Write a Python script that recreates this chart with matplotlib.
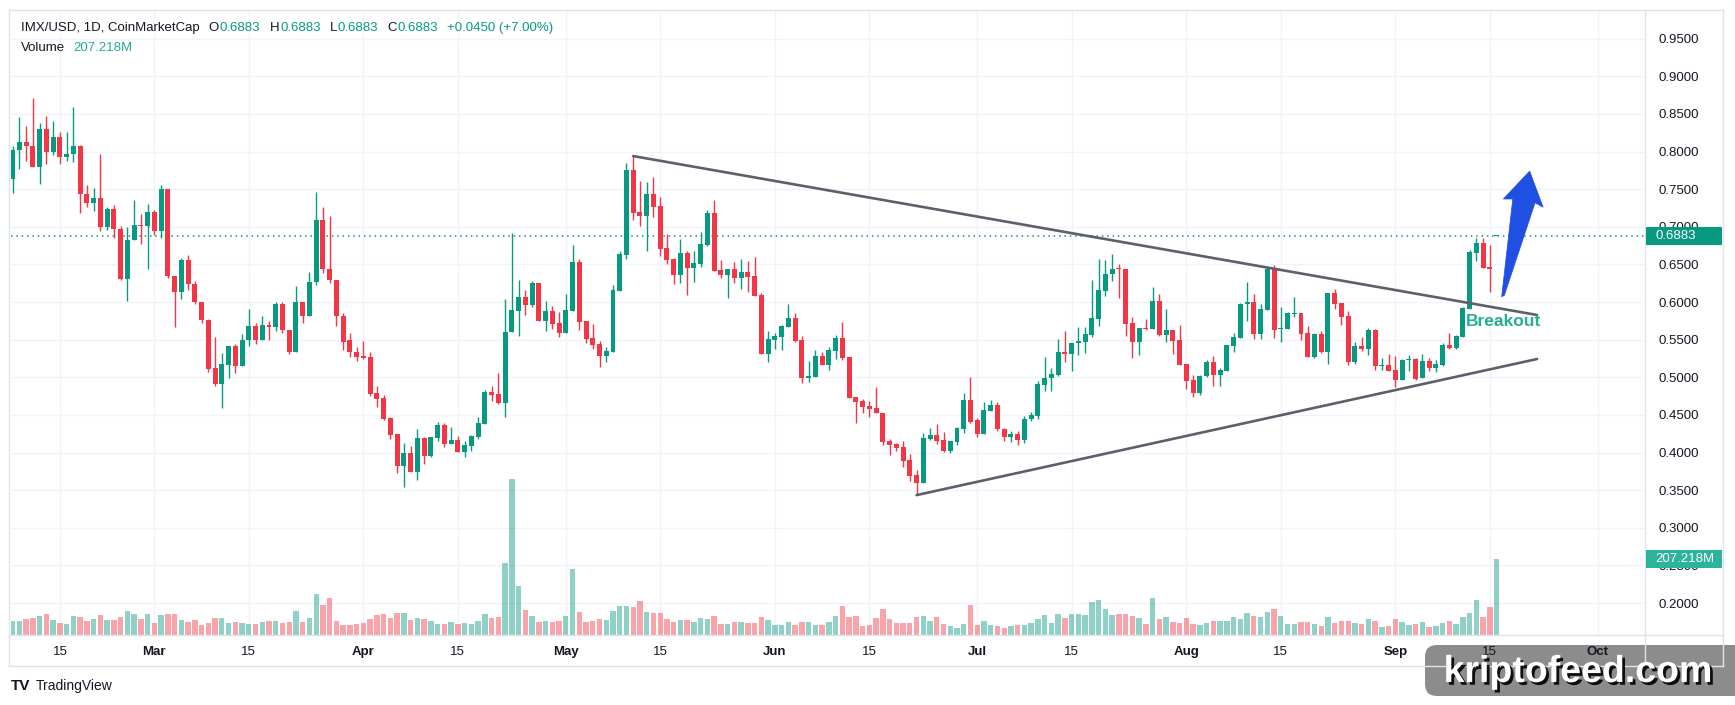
import datetime as dt
import numpy as np
import matplotlib
matplotlib.use('Agg')
import matplotlib.pyplot as plt
import matplotlib.dates as mdates
import matplotlib.transforms as mtransforms
import matplotlib.patheffects as pe
from matplotlib.patches import Rectangle, FancyBboxPatch, Polygon
from matplotlib.lines import Line2D

plt.rcParams['font.family'] = ['Liberation Sans', 'DejaVu Sans']

# IMX/USD daily candles, 2025-02-08 .. 2025-09-16
start = dt.date(2025, 2, 8)
opens = [
    0.7635, 0.8017, 0.8132, 0.8079, 0.779, 0.8305, 0.799, 0.8198, 0.7923, 0.7963,
    0.8079, 0.744, 0.7311, 0.7387, 0.6992, 0.724, 0.6974, 0.6309, 0.6819, 0.7028,
    0.7005, 0.72, 0.6939, 0.7507, 0.6349, 0.6127, 0.6562, 0.6243, 0.6003, 0.5768,
    0.5125, 0.4917, 0.5165, 0.5418, 0.5156, 0.5497, 0.5684, 0.5489, 0.5697, 0.5662,
    0.5977, 0.5631, 0.5342, 0.6003, 0.5821, 0.626, 0.7094, 0.6442, 0.6296, 0.5821,
    0.55, 0.534, 0.5283, 0.5274, 0.4795, 0.4728, 0.4462, 0.4249, 0.3823, 0.3996,
    0.3744, 0.4196, 0.3948, 0.4196, 0.4369, 0.4116, 0.4169, 0.401, 0.4089, 0.4209,
    0.4382, 0.4808, 0.4781, 0.4662, 0.5601, 0.5886, 0.6072, 0.5966, 0.6258, 0.5753,
    0.5886, 0.5726, 0.5593, 0.5886, 0.6538, 0.5753, 0.5526, 0.5447, 0.5287, 0.534,
    0.6152, 0.663, 0.775, 0.7203, 0.7142, 0.743, 0.727, 0.6712, 0.6566, 0.6358,
    0.6646, 0.6451, 0.6504, 0.6752, 0.719, 0.642, 0.6358, 0.6433, 0.6318, 0.6393,
    0.6344, 0.6092, 0.5308, 0.5499, 0.5534, 0.5671, 0.5782, 0.5494, 0.4989, 0.5002,
    0.5277, 0.5162, 0.5348, 0.5516, 0.5263, 0.4732, 0.4679, 0.4617, 0.459, 0.4532,
    0.4147, 0.4111, 0.4072, 0.3899, 0.37, 0.3593, 0.4178, 0.4231, 0.4165, 0.4019,
    0.4138, 0.4311, 0.4696, 0.4431, 0.4245, 0.4551, 0.463, 0.4311, 0.4205, 0.424,
    0.416, 0.4442, 0.4487, 0.49, 0.4985, 0.5033, 0.5331, 0.5313, 0.5451, 0.5473,
    0.5567, 0.578, 0.6153, 0.6367, 0.6447, 0.6442, 0.5722, 0.5474, 0.5656, 0.5647,
    0.6016, 0.5567, 0.5629, 0.5496, 0.5176, 0.4962, 0.4794, 0.5011, 0.5198, 0.5033,
    0.5087, 0.542, 0.5527, 0.5971, 0.6002, 0.558, 0.59, 0.6456, 0.5642, 0.5647,
    0.5842, 0.5856, 0.5585, 0.527, 0.5571, 0.5336, 0.6117, 0.5984, 0.5811, 0.5203,
    0.5412, 0.5376, 0.5625, 0.515, 0.5163, 0.5097, 0.4963, 0.5229, 0.5243, 0.499,
    0.5216, 0.5123, 0.5163, 0.5429, 0.5389, 0.5536, 0.5904, 0.6649, 0.6783, 0.6463,
    0.6883,
]
highs = [
    0.8079, 0.8465, 0.8345, 0.8717, 0.8385, 0.8478, 0.8411, 0.8265, 0.8265, 0.8598,
    0.8092, 0.7555, 0.752, 0.7972, 0.7267, 0.7294, 0.7014, 0.7001, 0.736, 0.7174,
    0.7307, 0.7227, 0.756, 0.7507, 0.6349, 0.6589, 0.6628, 0.6283, 0.6003, 0.5781,
    0.5529, 0.5325, 0.5418, 0.5444, 0.5577, 0.5901, 0.5724, 0.5817, 0.5754, 0.6003,
    0.6003, 0.5631, 0.6216, 0.6003, 0.6402, 0.7467, 0.7267, 0.7147, 0.6296, 0.5861,
    0.5595, 0.5407, 0.5486, 0.534, 0.4888, 0.4768, 0.4475, 0.4249, 0.4129, 0.4089,
    0.4316, 0.4209, 0.4209, 0.4409, 0.4396, 0.4342, 0.4223, 0.4156, 0.4236, 0.4475,
    0.4835, 0.4888, 0.5061, 0.6045, 0.6923, 0.6298, 0.6165, 0.6285, 0.6258, 0.6019,
    0.5952, 0.5872, 0.6112, 0.6764, 0.6578, 0.5753, 0.5713, 0.5486, 0.5407, 0.6232,
    0.6684, 0.785, 0.794, 0.7615, 0.7589, 0.7656, 0.739, 0.6898, 0.6588, 0.6832,
    0.6685, 0.6672, 0.6925, 0.7217, 0.735, 0.6557, 0.6433, 0.6526, 0.6566, 0.6539,
    0.6592, 0.6118, 0.5609, 0.5582, 0.5689, 0.5968, 0.5861, 0.5547, 0.5215, 0.5361,
    0.5334, 0.5401, 0.5556, 0.5729, 0.5263, 0.4732, 0.471, 0.4679, 0.4865, 0.4532,
    0.4178, 0.4125, 0.4152, 0.3979, 0.3766, 0.4258, 0.4324, 0.4377, 0.4271, 0.4152,
    0.4338, 0.4789, 0.5002, 0.4457, 0.467, 0.4696, 0.467, 0.433, 0.429, 0.428,
    0.448, 0.4542, 0.4949, 0.5269, 0.5127, 0.5509, 0.5616, 0.5456, 0.5669, 0.5669,
    0.6287, 0.6576, 0.6562, 0.6642, 0.6509, 0.6442, 0.5802, 0.5656, 0.5776, 0.6202,
    0.6109, 0.5909, 0.5629, 0.5696, 0.5176, 0.5033, 0.5033, 0.5234, 0.5287, 0.5127,
    0.5429, 0.5589, 0.5989, 0.6265, 0.6109, 0.598, 0.6469, 0.6496, 0.5936, 0.5869,
    0.6069, 0.5856, 0.5682, 0.5593, 0.5611, 0.6117, 0.617, 0.5984, 0.5877, 0.5465,
    0.5531, 0.5651, 0.5638, 0.5256, 0.531, 0.5283, 0.5243, 0.5296, 0.5256, 0.531,
    0.5256, 0.523, 0.5456, 0.5589, 0.5562, 0.5931, 0.6689, 0.6849, 0.6849, 0.6756,
    0.6883,
]
lows = [
    0.745, 0.7764, 0.787, 0.779, 0.7564, 0.783, 0.795, 0.783, 0.787, 0.7857,
    0.7178, 0.7258, 0.7205, 0.6939, 0.6952, 0.6846, 0.6287, 0.6008, 0.6819, 0.6766,
    0.6433, 0.6886, 0.6846, 0.6314, 0.5662, 0.6034, 0.6154, 0.598, 0.5728, 0.5076,
    0.489, 0.4597, 0.4996, 0.5063, 0.5156, 0.5422, 0.5436, 0.5489, 0.5489, 0.5609,
    0.5582, 0.5316, 0.5342, 0.5715, 0.5821, 0.622, 0.638, 0.6247, 0.5688, 0.5369,
    0.5276, 0.5212, 0.5247, 0.4755, 0.4608, 0.4435, 0.4183, 0.373, 0.3548, 0.3744,
    0.3637, 0.3841, 0.3934, 0.4156, 0.4076, 0.4116, 0.401, 0.3943, 0.4023, 0.4183,
    0.4382, 0.4688, 0.4648, 0.4475, 0.5601, 0.5553, 0.5832, 0.5939, 0.5753, 0.562,
    0.5646, 0.554, 0.5593, 0.5886, 0.5633, 0.546, 0.538, 0.5141, 0.5207, 0.534,
    0.6152, 0.657, 0.7096, 0.7017, 0.6672, 0.7124, 0.661, 0.6499, 0.6238, 0.6251,
    0.6092, 0.6265, 0.6464, 0.6739, 0.6411, 0.6318, 0.6052, 0.6251, 0.6172, 0.6132,
    0.6079, 0.5308, 0.5201, 0.5374, 0.5361, 0.5671, 0.5467, 0.4922, 0.4936, 0.5002,
    0.5162, 0.5095, 0.5241, 0.5228, 0.4723, 0.4391, 0.4524, 0.447, 0.4524, 0.4098,
    0.3966, 0.4019, 0.3806, 0.362, 0.3434, 0.3593, 0.4165, 0.4112, 0.4005, 0.3992,
    0.4098, 0.4258, 0.4391, 0.4205, 0.4245, 0.4551, 0.4284, 0.415, 0.414, 0.41,
    0.413, 0.442, 0.4451, 0.482, 0.482, 0.502, 0.5207, 0.5087, 0.53, 0.5327,
    0.554, 0.5687, 0.6074, 0.6274, 0.606, 0.5554, 0.5261, 0.53, 0.5634, 0.5647,
    0.5554, 0.5474, 0.5313, 0.5167, 0.4842, 0.4742, 0.4767, 0.5002, 0.4887, 0.4887,
    0.5087, 0.534, 0.5527, 0.5754, 0.5514, 0.5514, 0.59, 0.5527, 0.5474, 0.5647,
    0.5807, 0.55, 0.527, 0.5256, 0.5323, 0.5176, 0.5904, 0.5696, 0.5163, 0.5176,
    0.535, 0.5296, 0.5097, 0.5097, 0.5083, 0.487, 0.4963, 0.5083, 0.4963, 0.499,
    0.5083, 0.507, 0.515, 0.5376, 0.5376, 0.5536, 0.5904, 0.6543, 0.645, 0.6135,
    0.6883,
]
closes = [
    0.8026, 0.8132, 0.807, 0.779, 0.8305, 0.799, 0.8198, 0.7923, 0.7972, 0.8079,
    0.7431, 0.7311, 0.7387, 0.6992, 0.724, 0.6965, 0.6309, 0.6828, 0.7028, 0.7014,
    0.72, 0.6939, 0.7507, 0.634, 0.6127, 0.6562, 0.6234, 0.5994, 0.5755, 0.5116,
    0.4917, 0.5178, 0.5418, 0.5156, 0.5497, 0.5684, 0.5489, 0.5697, 0.5662, 0.5977,
    0.5622, 0.5342, 0.6003, 0.5821, 0.6269, 0.7094, 0.6433, 0.6287, 0.5808, 0.5475,
    0.5331, 0.5274, 0.526, 0.4781, 0.4715, 0.4449, 0.4236, 0.3823, 0.3996, 0.3744,
    0.4196, 0.3948, 0.4209, 0.4369, 0.4116, 0.4169, 0.401, 0.4103, 0.4223, 0.4396,
    0.4808, 0.4768, 0.4662, 0.5606, 0.5899, 0.6072, 0.5966, 0.6258, 0.5753, 0.5886,
    0.5713, 0.5593, 0.5899, 0.6538, 0.5739, 0.5513, 0.5433, 0.5287, 0.5353, 0.6165,
    0.6644, 0.775, 0.719, 0.715, 0.743, 0.7257, 0.6703, 0.6557, 0.6358, 0.6646,
    0.6451, 0.6513, 0.6765, 0.719, 0.6411, 0.6358, 0.6433, 0.6318, 0.6393, 0.6331,
    0.6079, 0.5308, 0.5503, 0.5547, 0.5675, 0.5782, 0.548, 0.4989, 0.5015, 0.5277,
    0.5162, 0.5361, 0.5516, 0.5255, 0.4723, 0.467, 0.4603, 0.4577, 0.4524, 0.4138,
    0.4098, 0.4058, 0.3886, 0.3686, 0.3593, 0.4191, 0.4231, 0.4152, 0.4019, 0.4152,
    0.4324, 0.4696, 0.4404, 0.4245, 0.4564, 0.463, 0.4311, 0.4205, 0.424, 0.416,
    0.4442, 0.4496, 0.4909, 0.4989, 0.5042, 0.5336, 0.5313, 0.5456, 0.5482, 0.5571,
    0.5789, 0.6162, 0.6376, 0.6442, 0.6433, 0.5714, 0.5474, 0.5656, 0.5642, 0.6016,
    0.5567, 0.5629, 0.5487, 0.5167, 0.4954, 0.4794, 0.502, 0.5207, 0.5033, 0.51,
    0.5429, 0.5536, 0.5976, 0.6002, 0.558, 0.5909, 0.6442, 0.5633, 0.5656, 0.5856,
    0.5856, 0.558, 0.527, 0.5571, 0.5336, 0.6117, 0.5975, 0.5802, 0.5203, 0.5412,
    0.5376, 0.5625, 0.515, 0.5163, 0.5083, 0.4963, 0.523, 0.5243, 0.4977, 0.5216,
    0.5123, 0.5176, 0.5429, 0.5389, 0.5549, 0.5917, 0.6663, 0.6783, 0.645, 0.6433,
    0.6883,
]
# volume in millions
volumes = [
    38.2, 38.2, 43.6, 46.3, 51.8, 57.3, 40.9, 32.7, 30.0, 51.8,
    49.1, 38.2, 43.6, 54.5, 40.9, 40.9, 49.1, 65.4, 57.3, 43.6,
    57.3, 32.7, 54.5, 57.3, 57.3, 40.9, 35.4, 40.9, 27.3, 32.7,
    46.3, 46.3, 32.7, 35.4, 32.7, 30.0, 30.0, 35.4, 38.2, 38.2,
    32.7, 35.4, 65.4, 35.4, 46.3, 111.8, 81.8, 100.9, 38.2, 27.3,
    27.3, 30.0, 32.7, 43.6, 54.5, 57.3, 46.3, 60.0, 60.0, 40.9,
    46.3, 43.6, 38.2, 30.0, 30.0, 35.4, 30.0, 32.7, 30.0, 38.2,
    57.3, 46.3, 49.1, 196.3, 425.3, 133.6, 68.2, 51.8, 35.4, 38.2,
    35.4, 38.2, 51.8, 179.9, 62.7, 35.4, 38.2, 43.6, 40.9, 65.4,
    79.1, 79.1, 76.3, 92.7, 62.7, 60.0, 60.0, 43.6, 35.4, 40.9,
    40.9, 35.4, 46.3, 43.6, 51.8, 30.0, 30.0, 35.4, 35.4, 32.7,
    32.7, 49.1, 40.9, 27.3, 27.3, 35.4, 27.3, 35.4, 35.4, 27.3,
    27.3, 35.4, 51.8, 79.1, 49.1, 51.8, 24.5, 27.3, 46.3, 70.9,
    43.6, 32.7, 32.7, 32.7, 49.1, 51.8, 38.2, 49.1, 30.0, 24.5,
    19.1, 30.0, 81.8, 27.3, 38.2, 27.3, 24.5, 19.1, 24.5, 27.3,
    27.3, 32.7, 43.6, 54.5, 32.7, 57.3, 46.3, 57.3, 57.3, 54.5,
    90.0, 95.4, 70.9, 54.5, 57.3, 57.3, 51.8, 46.3, 30.0, 100.9,
    43.6, 49.1, 35.4, 32.7, 46.3, 30.0, 27.3, 32.7, 38.2, 38.2,
    38.2, 49.1, 43.6, 60.0, 51.8, 49.1, 62.7, 70.9, 51.8, 30.0,
    30.0, 35.4, 35.4, 30.0, 24.5, 49.1, 32.7, 38.2, 38.2, 32.7,
    30.0, 43.6, 38.2, 21.8, 24.5, 43.6, 35.4, 27.3, 30.0, 35.4,
    21.8, 24.5, 32.7, 38.2, 30.0, 49.1, 60.0, 95.4, 49.1, 76.3,
    207.218,
]

tick_dates = ['2025-02-15', '2025-03-01', '2025-03-15', '2025-04-01', '2025-04-15',
              '2025-05-01', '2025-05-15', '2025-06-01', '2025-06-15', '2025-07-01',
              '2025-07-15', '2025-08-01', '2025-08-15', '2025-09-01', '2025-09-15',
              '2025-10-01']
tick_labels = ['15', 'Mar', '15', 'Apr', '15', 'May', '15', 'Jun', '15', 'Jul',
               '15', 'Aug', '15', 'Sep', '15', 'Oct']
price_ticks = [0.20, 0.25, 0.30, 0.35, 0.40, 0.45, 0.50, 0.55, 0.60, 0.65,
               0.70, 0.75, 0.80, 0.85, 0.90, 0.95]

# drawn annotations: triangle trend lines, arrow, label
upper_line = (['2025-05-11', '2025-09-22'], [0.794, 0.5828])
lower_line = (['2025-06-22', '2025-09-22'], [0.3434, 0.5243])
arrow_days = [220.75, 221.15, 225.7, 226.9, 224.9, 221.0, 222.4]
arrow_prices = [0.607, 0.609, 0.732, 0.726, 0.774, 0.737, 0.737]
last_price = 0.6883
last_volume = 207.218

GREEN = '#089981'
RED = '#F23645'
TXT = '#131722'
GRID = '#f0f3fa'
BORDER = '#e0e3eb'

W, H = 1735, 705
fig = plt.figure(figsize=(W / 100, H / 100), dpi=100)
fig.patch.set_facecolor('white')

L, R, T, B = 11, 1645, 11, 635
rect = [L / W, 1 - B / H, (R - L) / W, (B - T) / H]
axv = fig.add_axes(rect)
ax = fig.add_axes(rect)

x = mdates.date2num(np.array([start + dt.timedelta(days=i) for i in range(len(opens))]))
x0 = mdates.date2num(start)
o = np.array(opens); h = np.array(highs); lo = np.array(lows); c = np.array(closes)
up = c >= o
cols = np.where(up, GREEN, RED)

ax.set_xlim(x0 - 0.25, x0 + 242.0)
axv.set_xlim(x0 - 0.25, x0 + 242.0)
ax.set_ylim(0.1575, 0.9868)
axv.set_ylim(0, last_volume * (B - T) / 76)
axv.set_axis_off()

# volume (scaled by the hidden volume axes)
vtrans = mtransforms.blended_transform_factory(ax.transData, axv.transData)
ax.bar(x, volumes, width=0.8, color=cols, alpha=0.45, transform=vtrans, zorder=1.5)

# candles
ax.vlines(x, lo, h, colors=cols, lw=1.0, zorder=3)
body = np.maximum(np.abs(c - o), 0.0009)
ax.bar(x, body, bottom=np.minimum(o, c), width=0.74, color=cols, zorder=3.2)

ax.axhline(last_price, color=GREEN, lw=1.1, ls=(0, (1, 2.5)), zorder=2)

for (ds, ps) in (upper_line, lower_line):
    ax.plot(mdates.date2num([dt.date.fromisoformat(d) for d in ds]), ps,
            color='#5d606b', lw=1.9, solid_capstyle='round', zorder=4)

ax.add_patch(Polygon(list(zip(x0 + np.array(arrow_days), arrow_prices)), closed=True,
                     fc='#1f4fe3', ec='#1f4fe3', lw=0.5, zorder=5))
ax.text(x0 + 215.4, 0.5735, 'Breakout', color='#26ad96', fontsize=12.5,
        fontweight='bold', ha='left', va='center', zorder=5)

# axes styling
ax.patch.set_visible(False)
for s in ax.spines.values():
    s.set_visible(False)
ax.set_axisbelow(True)
ax.grid(True, color=GRID, lw=1)
ax.yaxis.tick_right()
ax.set_yticks(price_ticks)
ax.set_yticklabels([f'{p:.4f}' for p in price_ticks])
ax.tick_params(axis='y', length=0, pad=10, labelsize=9.5, labelcolor=TXT)
ax.set_xticks(mdates.date2num([dt.date.fromisoformat(d) for d in tick_dates]))
ax.set_xticklabels(tick_labels)
ax.tick_params(axis='x', length=0, pad=8, labelsize=9.5, labelcolor=TXT)
for lab in ax.get_xticklabels():
    if not lab.get_text().isdigit():
        lab.set_fontweight('bold')

ID = mtransforms.IdentityTransform()


def hline(y, x1, x2):
    fig.add_artist(Line2D([x1, x2], [H - y, H - y], color=BORDER, lw=1, transform=ID))


def vline(xp, y1, y2):
    fig.add_artist(Line2D([xp, xp], [H - y1, H - y2], color=BORDER, lw=1, transform=ID))


hline(10, 9, 1723)
hline(635, 9, 1723)
hline(666, 9, 1723)
vline(9, 10, 666)
vline(1723, 10, 666)
vline(1645, 10, 666)


# value tags on the price scale
def tag(ypix, text, color):
    fig.add_artist(Rectangle((1646, ypix - 9), 76, 18, fc=color, ec='none',
                             transform=ID, zorder=4))
    fig.text(1655 / W, ypix / H, text, color='white', fontsize=9.5,
             ha='left', va='center', zorder=5)


tag(ax.transData.transform((x0, last_price))[1], f'{last_price:.4f}', GREEN)
tag(axv.transData.transform((x0, last_volume))[1], f'{last_volume:.3f}M', '#2cb39b')

# header
renderer = fig.canvas.get_renderer()


def pieces(xp, yp, parts, size=9.5):
    for text, color, gap in parts:
        xp += gap
        t = fig.text(xp / W, 1 - yp / H, text, color=color, fontsize=size,
                     ha='left', va='center')
        xp += t.get_window_extent(renderer).width


pieces(21, 28, [('IMX/USD, 1D, CoinMarketCap', TXT, 0),
                ('O', TXT, 9), ('0.6883', GREEN, 1),
                ('H', TXT, 9), ('0.6883', GREEN, 1),
                ('L', TXT, 9), ('0.6883', GREEN, 1),
                ('C', TXT, 9), ('0.6883', GREEN, 1),
                ('+0.0450 (+7.00%)', GREEN, 9)])
pieces(21, 48, [('Volume', TXT, 0), ('207.218M', '#22ab94', 8)])

# footer logo
fig.text(11 / W, 1 - 686 / H, 'TV', color=TXT, fontsize=11, fontweight='bold',
         ha='left', va='center')
fig.text(36 / W, 1 - 686 / H, 'TradingView', color=TXT, fontsize=10,
         ha='left', va='center')

# watermark (box sits under the time-axis labels, like the screenshot)
fig.add_artist(FancyBboxPatch((1425, H - 696), 330, 51,
                              boxstyle='round,pad=0,rounding_size=12',
                              fc='black', alpha=0.45, ec='none', transform=ID, zorder=-1))
fig.text(1578 / W, 1 - 672 / H, 'kriptofeed.com', color='white', fontsize=27,
         fontweight='bold', ha='center', va='center', zorder=7,
         path_effects=[pe.withSimplePatchShadow(offset=(2, -2), shadow_rgbFace='black',
                                                alpha=0.9)])

fig.savefig('out.png', dpi=100, facecolor='white')
